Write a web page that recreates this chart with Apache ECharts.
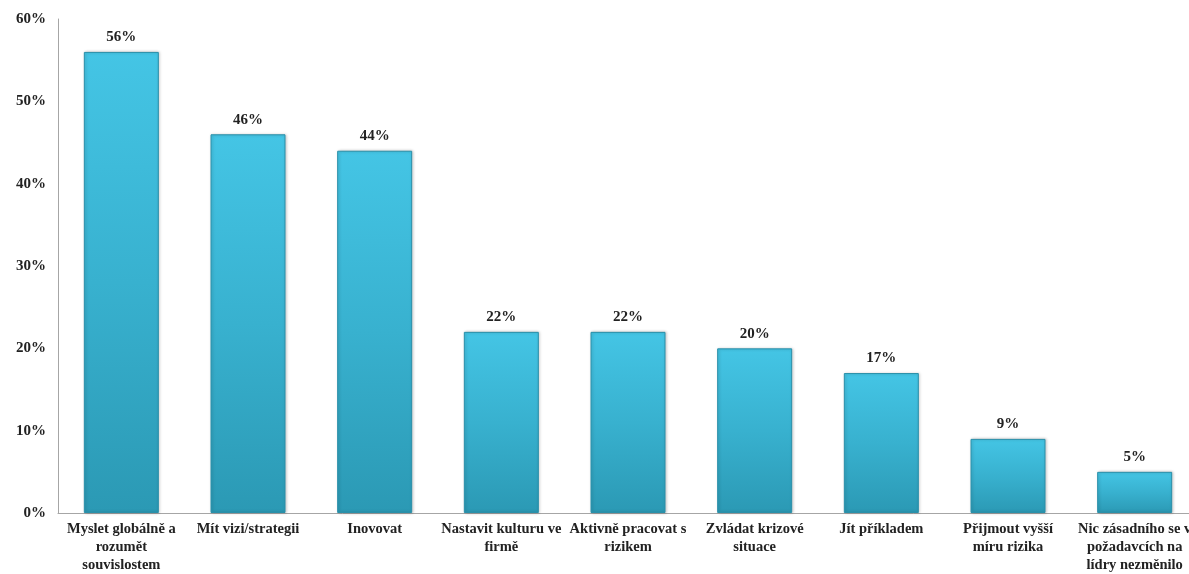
<!DOCTYPE html>
<html>
<head>
<meta charset="utf-8">
<script src="https://cdn.jsdelivr.net/npm/echarts@6/dist/echarts.min.js"></script>
<style>
  html, body { margin: 0; padding: 0; background: #ffffff; overflow: hidden; }
  /* the last category runs slightly past the right edge of the page */
  #chart { width: 1198px; height: 574px; }
</style>
</head>
<body>
<div id="chart"></div>
<script>
// Survey answers: what leaders are now expected to do
const categories = [
  'Myslet globálně a\nrozumět\nsouvislostem',
  'Mít vizi/strategii',
  'Inovovat',
  'Nastavit kulturu ve\nfirmě',
  'Aktivně pracovat s\nrizikem',
  'Zvládat krizové\nsituace',
  'Jít příkladem',
  'Přijmout vyšší\nmíru rizika',
  'Nic zásadního se v\npožadavcích na\nlídry nezměnilo'
];
const shares = [56, 46, 44, 22, 22, 20, 17, 9, 5];
const yTicks = [0, 10, 20, 30, 40, 50, 60];

const serif = '"Liberation Serif", "DejaVu Serif", serif';

const chart = echarts.init(document.getElementById('chart'));
chart.setOption({
  animation: false,
  grid: { left: 58, top: 19, right: 0, bottom: 60, containLabel: false },
  xAxis: {
    type: 'category',
    data: categories,
    axisLine: { lineStyle: { color: '#a6a6a6', width: 1 } },
    axisTick: { show: false },
    axisLabel: {
      interval: 0,
      color: '#222',
      fontFamily: serif,
      fontWeight: 'bold',
      fontSize: 14.5,
      lineHeight: 18,
      margin: 7
    }
  },
  yAxis: {
    type: 'value',
    min: yTicks[0],
    max: yTicks[yTicks.length - 1],
    interval: 10,
    splitLine: { show: false },
    axisLine: { show: true, lineStyle: { color: '#a6a6a6', width: 1 } },
    axisTick: { show: false },
    axisLabel: {
      formatter: '{value}%',
      color: '#222',
      fontFamily: serif,
      fontWeight: 'bold',
      fontSize: 15,
      margin: 12
    }
  },
  series: [{
    type: 'bar',
    data: shares,
    barWidth: 75,
    itemStyle: {
      color: {
        type: 'linear', x: 0, y: 0, x2: 0, y2: 1,
        colorStops: [
          { offset: 0, color: '#44c5e5' },
          { offset: 0.5, color: '#38b1cf' },
          { offset: 1, color: '#2b99b4' }
        ]
      },
      borderColor: '#2a90aa',
      borderWidth: 1,
      shadowColor: 'rgba(0,0,0,0.22)',
      shadowBlur: 3,
      shadowOffsetX: 1,
      shadowOffsetY: 0
    },
    label: {
      show: true,
      position: 'top',
      distance: 7,
      formatter: '{c}%',
      color: '#222',
      fontFamily: serif,
      fontWeight: 'bold',
      fontSize: 15
    }
  }]
});
</script>
</body>
</html>
